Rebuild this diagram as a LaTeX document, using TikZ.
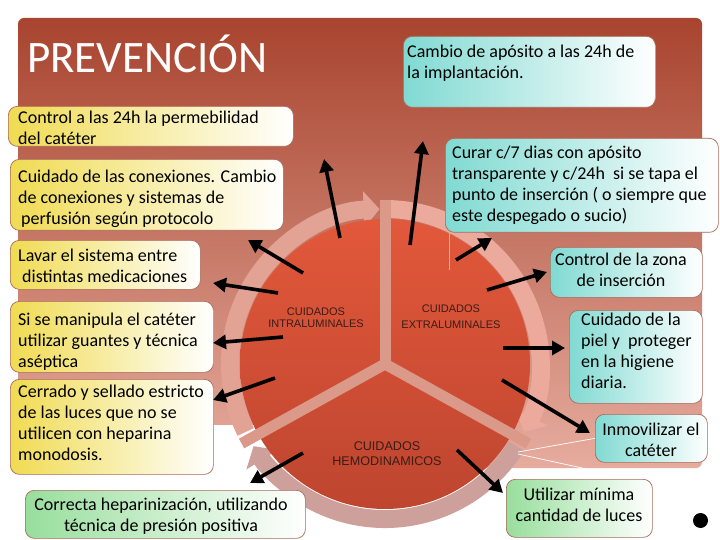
\documentclass[tikz,border=0pt]{standalone}
\usepackage{fontspec}
\setmainfont{Carlito}
\newfontfamily\arialf{Liberation Sans}
\usetikzlibrary{arrows.meta}
\definecolor{bgtop}{HTML}{A8442F}
\definecolor{bgmid}{HTML}{C27565}
\definecolor{bgbot}{HTML}{E6AC9E}
\definecolor{disktop}{HTML}{E2583B}
\definecolor{diskbot}{HTML}{BE452F}
\definecolor{ringA}{HTML}{E2A294}
\definecolor{ringB}{HTML}{EBAA9C}
\definecolor{ringC}{HTML}{CDA09C}
\definecolor{divcol}{HTML}{DB998A}
\definecolor{boxline}{HTML}{A86A5A}
\definecolor{yel}{HTML}{F0DB52}
\definecolor{yelmid}{HTML}{FFF8E2}
\definecolor{cya}{HTML}{80DAD2}
\definecolor{cyamid}{HTML}{CDF1EE}
\definecolor{gre}{HTML}{98DE9C}
\definecolor{gremid}{HTML}{DDF4DE}
\definecolor{lbl}{HTML}{3A1D16}
\begin{document}
\begin{tikzpicture}[x=1pt,y=1pt,
 box/.style={draw=boxline, line width=0.7pt, rounded corners=9pt, anchor=north west, inner sep=0pt},
 ybox/.style={box, left color=yel, middle color=yelmid, right color=white},
 cbox/.style={box, left color=cya, middle color=cyamid, right color=white},
 gbox/.style={box, left color=gre, middle color=gremid, right color=white},
 txt/.style={inner sep=0pt, font=\fontsize{18}{21}\selectfont, align=left, anchor=north west},
 ctxt/.style={txt, align=center, anchor=north},
 lab/.style={inner sep=0pt, text=lbl, align=center, anchor=north},
 arr/.style={line width=3.6pt, black, -{Triangle[length=13pt,width=14pt]}},
 ringarc/.style={line width=18pt, -{Triangle[length=16pt,width=36pt]}},
 divider/.style={divcol, line width=11pt}
]
\fill[white] (0,0) rectangle (720,-540);
\useasboundingbox (0,0) rectangle (720,-540);
% background panel
\shade[top color=bgtop, middle color=bgmid, bottom color=bgbot, rounded corners=6pt] (18,-18) rectangle (702,-468);
\fill[white] (0,-425) rectangle (300,-540);
% cycle
\coordinate (C) at (385,-364);
\draw[ringarc, ringA] (C) ++(206:155) arc[start angle=206, end angle=92, radius=155];
\draw[ringarc, ringB] (C) ++(88:155) arc[start angle=88, end angle=-26, radius=155];
\draw[ringarc, ringC] (C) ++(-32:155) arc[start angle=-32, end angle=-148, radius=155];
\shade[top color=disktop, bottom color=diskbot] (C) circle[radius=145];
\draw[divider] (C) -- ++(90:164);
\draw[divider] (C) -- ++(209:164);
\draw[divider] (C) -- ++(-29:164);
\fill[divcol] (C) circle[radius=5.5];
\draw[ringB, line width=0.8pt] (449,-227) -- (449,-270);
\draw[white, line width=0.7pt] (518,-452) -- (597,-438);
\draw[white, line width=0.7pt] (518,-454) -- (637,-480);
% circle labels
\node[lab, font=\arialf\fontsize{11}{12.4}\selectfont] (lint) at (316,-306.3) {\strut CUIDADOS\\INTRALUMINALES};
\node[lab, font=\arialf\fontsize{11}{16}\selectfont] (lext) at (451,-301.5) {\strut CUIDADOS\\EXTRALUMINALES};
\node[lab, font=\arialf\fontsize{12.6}{15}\selectfont] (lhem) at (387,-440.2) {\strut CUIDADOS\\HEMODINAMICOS};
% title
\node[anchor=base west, inner sep=0pt, text=white, font=\fontsize{45}{54}\selectfont] (title) at (27,-73) {PREVENCIÓN};
% boxes
\node[cbox, minimum width=252pt, minimum height=71pt] (b1) at (403,-36) {};
\node[ybox, minimum width=285pt, minimum height=40pt] (b2) at (8,-106) {};
\node[ybox, minimum width=273pt, minimum height=71pt] (b3) at (10,-159) {};
\node[cbox, minimum width=273pt, minimum height=94pt] (b4) at (445,-138) {};
\node[ybox, minimum width=190pt, minimum height=49pt] (b5) at (10,-240) {};
\node[cbox, minimum width=152pt, minimum height=50pt] (b6) at (550,-247) {};
\node[ybox, minimum width=203pt, minimum height=71pt] (b7) at (10,-301) {};
\node[cbox, minimum width=133pt, minimum height=93pt] (b8) at (569,-310) {};
\node[ybox, minimum width=203pt, minimum height=95pt] (b9) at (10,-379) {};
\node[cbox, minimum width=112pt, minimum height=48pt] (b10) at (595,-414) {};
\node[gbox, minimum width=280pt, minimum height=48pt] (b11) at (25,-490) {};
\node[gbox, minimum width=146pt, minimum height=58pt] (b12) at (506,-479) {};
% texts
\node[txt] (t1) at (407,-42.3) {\strut Cambio de apósito a las 24h de\\la implantación.};
\node[txt] (t2) at (18,-108.3) {\strut Control a las 24h la permebilidad\\del catéter};
\node[txt] (t3) at (18,-167.3) {\strut Cuidado de las conexiones. Cambio\\de conexiones y sistemas de\\\hspace*{3pt}perfusión según protocolo};
\node[txt] (t4) at (452,-143.3) {\strut Curar c/7 dias con apósito\\transparente y c/24h\ \ si se tapa el\\punto de inserción ( o siempre que\\este despegado o sucio)};
\node[txt] (t5) at (18,-246.3) {\strut Lavar el sistema entre\\\hspace*{4pt}distintas medicaciones};
\node[ctxt] (t6) at (621,-250.3) {\strut Control de la zona\\de inserción};
\node[txt] (t7) at (18,-310.3) {\strut Si se manipula el catéter\\utilizar guantes y técnica\\aséptica};
\node[txt] (t8) at (581,-310.3) {\strut Cuidado de la\\piel y\ \ proteger\\en la higiene\\diaria.};
\node[txt] (t9) at (18,-382.3) {\strut Cerrado y sellado estricto\\de las luces que no se\\utilicen con heparina\\monodosis.};
\node[ctxt] (t10) at (651,-420.3) {\strut Inmovilizar el\\catéter};
\node[ctxt] (t11) at (161,-495.3) {\strut Correcta heparinización, utilizando\\técnica de presión positiva};
\node[ctxt] (t12) at (579,-485.3) {\strut Utilizar mínima\\cantidad de luces};
% arrows
\coordinate (s1) at (340,-238); \coordinate (e1) at (324,-159);
\coordinate (s2) at (410,-245); \coordinate (e2) at (423,-141);
\coordinate (s3) at (303,-273); \coordinate (e3) at (248,-240);
\coordinate (s4) at (278,-293); \coordinate (e4) at (213,-283);
\coordinate (s5) at (283,-337); \coordinate (e5) at (213,-343);
\coordinate (s6) at (275,-378); \coordinate (e6) at (213,-400);
\coordinate (s7) at (303,-453); \coordinate (e7) at (250,-483);
\coordinate (s8) at (456,-260); \coordinate (e8) at (492,-238);
\coordinate (s9) at (487,-290); \coordinate (e9) at (547,-272);
\coordinate (s10) at (503,-348); \coordinate (e10) at (565,-348);
\coordinate (s11) at (502,-380); \coordinate (e11) at (590,-433);
\coordinate (s12) at (457,-450); \coordinate (e12) at (503,-493);
\foreach \i in {1,...,12} \draw[arr] (s\i) -- (e\i);
% dot
\node[circle, fill=black, minimum size=15pt, inner sep=0pt] (dot) at (700.5,-520.5) {};
\end{tikzpicture}
\end{document}
